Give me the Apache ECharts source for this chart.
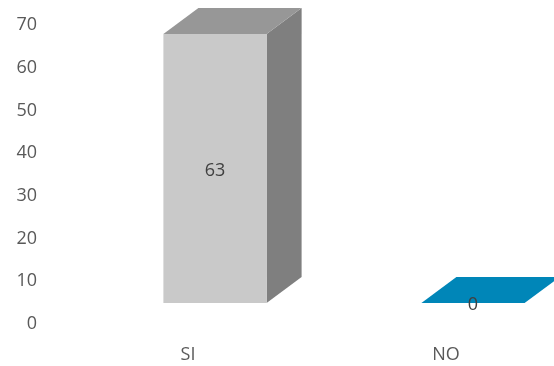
<!DOCTYPE html>
<html>
<head>
<meta charset="utf-8">
<script src="https://cdn.jsdelivr.net/npm/echarts@6/dist/echarts.min.js"></script>
<style>html,body{margin:0;padding:0;background:#fff;}#c{width:554px;height:366px;}</style>
</head>
<body>
<div id="c"></div>
<script>
var categories = ['SI', 'NO'];
var values = [63, 0];
var frontColors = ['#C9C9C9', '#0086B8'];
var topColors = ['#979797', '#0086B8'];
var sideColors = ['#7F7F7F', '#006A92'];
var yMin = 0, yMax = 70, yInterval = 10;

var chart = echarts.init(document.getElementById('c'));
var FONT = 'Open Sans';
chart.setOption({
  animation: false,
  backgroundColor: '#ffffff',
  grid: { left: 188, top: 25, right: 108, height: 299, containLabel: false },
  xAxis: {
    type: 'category',
    data: categories,
    boundaryGap: false,
    axisLine: { show: false },
    axisTick: { show: false },
    splitLine: { show: false },
    axisLabel: { color: '#595959', fontFamily: FONT, fontSize: 18, margin: 22 }
  },
  yAxis: {
    type: 'value',
    min: yMin, max: yMax, interval: yInterval,
    splitLine: { show: false },
    axisLine: { show: false },
    axisTick: { show: false },
    axisLabel: { color: '#595959', fontFamily: FONT, fontSize: 18, margin: 151, padding: [4, 0, 0, 0] }
  },
  series: [{
    type: 'custom',
    clip: false,
    data: values.map(function (v, i) { return [i, v]; }),
    renderItem: function (params, api) {
      var i = api.value(0);
      var v = api.value(1);
      var base = api.coord([i, 0]);
      var top = api.coord([i, v]);
      var band = api.size([1, 0])[0];
      var hw = band * 0.4 / 2;
      var cx = base[0] + 27;
      var oy = -21;
      var dx = 35, dy = -26;
      var x0 = cx - hw, x1 = cx + hw;
      var yb = base[1] + oy, yt = top[1] + oy;
      var children = [];
      if (yb - yt > 0.5) {
        children.push({ type: 'polygon', shape: { points: [[x1, yb], [x1 + dx, yb + dy], [x1 + dx, yt + dy], [x1, yt]] }, style: { fill: sideColors[i] } });
        children.push({ type: 'rect', shape: { x: x0, y: yt, width: x1 - x0, height: yb - yt }, style: { fill: frontColors[i] } });
      }
      children.push({ type: 'polygon', shape: { points: [[x0, yt], [x0 + dx, yt + dy], [x1 + dx, yt + dy], [x1, yt]] }, style: { fill: topColors[i] } });
      children.push({ type: 'text', style: { text: String(v), x: cx, y: (yt + yb) / 2 + 2, align: 'center', verticalAlign: 'middle', fill: '#404040', font: '18px "Open Sans"' } });
      return { type: 'group', children: children };
    }
  }]
});
</script>
</body>
</html>
